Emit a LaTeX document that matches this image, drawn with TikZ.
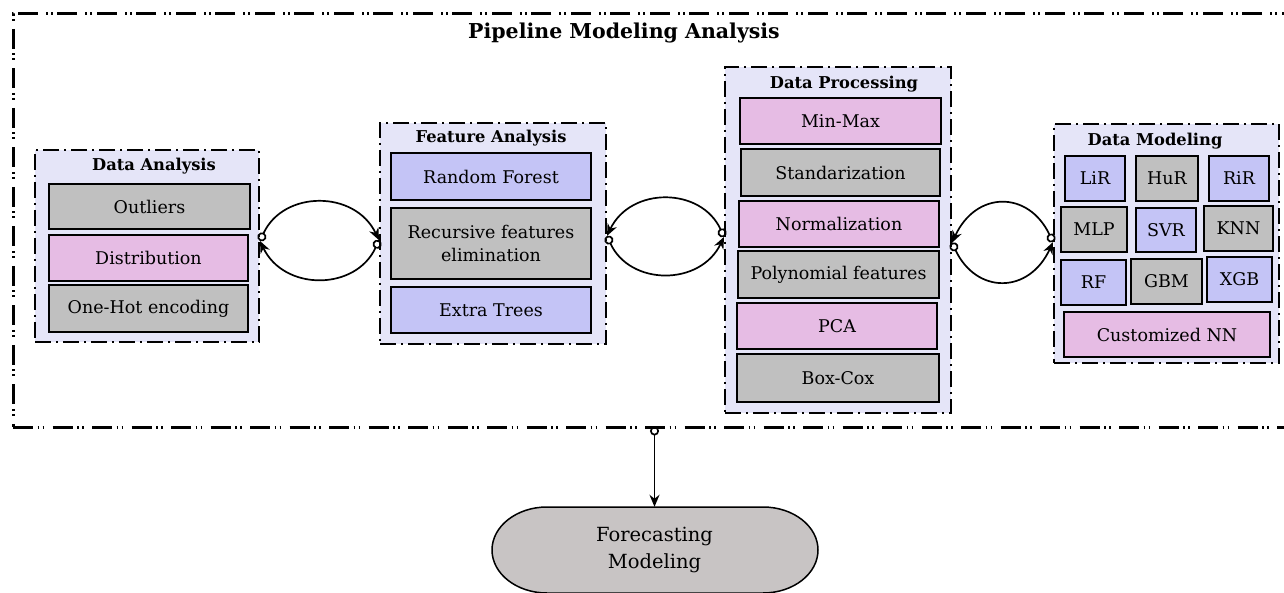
\documentclass[tikz,border=0pt]{standalone}
\usepackage{fontspec}
\setmainfont{DejaVu Serif}
\usetikzlibrary{arrows.meta,calc}
\definecolor{grayb}{RGB}{192,192,192}
\definecolor{pinkb}{RGB}{230,188,228}
\definecolor{blueb}{RGB}{196,196,246}
\definecolor{groupfill}{RGB}{229,229,248}
\definecolor{fmfill}{RGB}{200,196,196}
\begin{document}
\begin{tikzpicture}[x=1pt,y=1pt,
  box/.style={draw=black, line width=1.6pt, inner sep=0pt, align=center,
    font=\fontsize{17.5}{23}\selectfont},
  gbox/.style={box, fill=grayb},
  pbox/.style={box, fill=pinkb},
  bbox/.style={box, fill=blueb},
  group/.style={draw=black, line width=2pt, fill=groupfill,
    dash pattern=on 16pt off 5pt on 2pt off 5pt},
  gtitle/.style={inner sep=0pt, font=\bfseries\fontsize{16.3}{19}\selectfont},
  outerframe/.style={draw=black, line width=3pt,
    dash pattern=on 20pt off 4.5pt on 1.7pt off 3.3pt on 1.7pt off 8.3pt},
  link/.style={line width=1.7pt, {Circle[open,length=9pt,width=9pt]}-{Stealth[length=12pt,width=10pt]}}
]
\clip (0,0) rectangle (1284,592);

% outer frame
\node[outerframe, minimum width=1287pt, minimum height=413pt] (pipe) at (656.5,371.5) {};
\node[inner sep=0pt, font=\bfseries\fontsize{20.5}{24}\selectfont] (ptitle) at (624,559) {Pipeline Modeling Analysis};

% Data Analysis
\node[group, minimum width=224pt, minimum height=192pt] (da) at (147,346) {};
\node[gtitle] (datitle) at (154,426) {Data Analysis};
\node[gbox, minimum width=201pt, minimum height=45pt] (outl) at (149.5,385.5) {Outliers};
\node[pbox, minimum width=199pt, minimum height=46pt] (dist) at (148.5,334) {Distribution};
\node[gbox, minimum width=199pt, minimum height=47pt] (ohe) at (148.5,283.5) {One-Hot encoding};

% Feature Analysis
\node[group, minimum width=226pt, minimum height=221pt] (fa) at (493,358.5) {};
\node[gtitle] (fatitle) at (491,454) {Feature Analysis};
\node[bbox, minimum width=200pt, minimum height=47pt] (rfo) at (491,415.5) {Random Forest};
\node[gbox, minimum width=200pt, minimum height=71pt] (rfe) at (491,348.5) {Recursive features\\elimination};
\node[bbox, minimum width=200pt, minimum height=46pt] (ext) at (491,282) {Extra Trees};

% Data Processing
\node[group, minimum width=226pt, minimum height=346pt] (dp) at (838,352) {};
\node[gtitle] (dptitle) at (844,508) {Data Processing};
\node[pbox, minimum width=201pt, minimum height=46pt] (mm) at (840.5,471) {Min-Max};
\node[gbox, minimum width=199pt, minimum height=47pt] (std) at (840.5,419.5) {Standarization};
\node[pbox, minimum width=200pt, minimum height=46pt] (nrm) at (839,368) {Normalization};
\node[gbox, minimum width=201pt, minimum height=47pt] (poly) at (838.5,317.5) {Polynomial features};
\node[pbox, minimum width=200pt, minimum height=46pt] (pca) at (837,266) {PCA};
\node[gbox, minimum width=202pt, minimum height=48pt] (bc) at (838,214) {Box-Cox};

% Data Modeling
\node[group, minimum width=225pt, minimum height=239pt] (dm) at (1166.5,348.5) {};
\node[gtitle] (dmtitle) at (1155,451) {Data Modeling};
\node[bbox, minimum width=60pt, minimum height=45pt] (lir) at (1095,413.5) {LiR};
\node[gbox, minimum width=62pt, minimum height=45pt] (hur) at (1167,413.5) {HuR};
\node[bbox, minimum width=60pt, minimum height=45pt] (rir) at (1239,413.5) {RiR};
\node[gbox, minimum width=66pt, minimum height=45pt] (mlp) at (1094,362.5) {MLP};
\node[bbox, minimum width=60pt, minimum height=44pt] (svr) at (1166,362) {SVR};
\node[gbox, minimum width=69pt, minimum height=45pt] (knn) at (1238.5,363.5) {KNN};
\node[bbox, minimum width=65pt, minimum height=45pt] (rf) at (1093.5,309.5) {RF};
\node[gbox, minimum width=71pt, minimum height=45pt] (gbm) at (1166.5,310.5) {GBM};
\node[bbox, minimum width=65pt, minimum height=45pt] (xgb) at (1239.5,312.5) {XGB};
\node[pbox, minimum width=206pt, minimum height=45pt] (cnn) at (1167,257.5) {Customized NN};

% connection points
\coordinate (P) at ($(da.north east)!0.474!(da.south east)$);
\coordinate (Q) at ($(fa.north west)!0.53!(fa.south west)$);
\coordinate (R) at ($(fa.north east)!0.511!(fa.south east)$);
\coordinate (S) at ($(dp.north west)!0.491!(dp.south west)$);
\coordinate (T) at ($(dp.north east)!0.508!(dp.south east)$);
\coordinate (U) at ($(dm.north west)!0.494!(dm.south west)$);

\draw[link] (P) to[bend left=65, looseness=1.2] (Q);
\draw[link] (Q) to[bend left=65, looseness=1.2] (P);
\draw[link] (S) to[bend right=65, looseness=1.2] (R);
\draw[link] (R) to[bend right=65, looseness=1.2] (S);
\draw[link] (U) to[bend right=65, looseness=1.45] (T);
\draw[link] (T) to[bend right=65, looseness=1.45] (U);

% Forecasting Modeling
\draw[line width=1.5pt, fill=fmfill] (547,85) -- (763,85)
  arc[start angle=90, end angle=-90, x radius=55, y radius=43] -- (547,-1)
  arc[start angle=270, end angle=90, x radius=55, y radius=43] -- cycle;
\node[inner sep=0pt, minimum width=326pt, minimum height=86pt, align=center,
  font=\fontsize{19.5}{27}\selectfont] (fm) at (654.5,42) {Forecasting\\Modeling};
\coordinate (pb) at ($(fm.north |- pipe.south)+(0,2)$);
\draw[link] (pb) -- (fm.north);
\end{tikzpicture}
\end{document}
